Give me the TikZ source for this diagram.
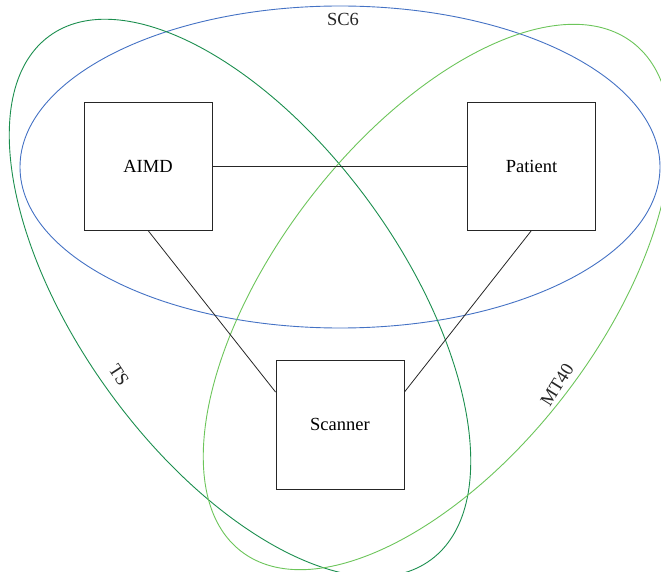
\documentclass[tikz,border=0pt]{standalone}
\usepackage{fontspec}
\setmainfont{Liberation Serif}
\usetikzlibrary{calc}
\begin{document}
\begin{tikzpicture}[x=1pt,y=1pt,
  box/.style={draw=black!85,line width=0.9pt,minimum width=128pt,minimum height=128pt,inner sep=0pt,font=\fontsize{18.5}{21}\selectfont},
  link/.style={draw=black!85,line width=0.8pt},
  setline/.style={line width=0.9pt},
  lbl/.style={font=\fontsize{18.5}{21}\selectfont,text=black!85,inner sep=0pt}]
\definecolor{scblue}{HTML}{4472C4}
\definecolor{tsgreen}{HTML}{1B8E4E}
\definecolor{mtgreen}{HTML}{6CC55A}
\useasboundingbox (0,0) rectangle (661,571);
\begin{scope}
\clip (0,0) rectangle (661,571);
\draw[setline,scblue] (340,404) ellipse [x radius=320, y radius=161];
\draw[setline,tsgreen] (240,273) ellipse [x radius=324, y radius=161, rotate=-54];
\draw[setline,mtgreen] (437,274) ellipse [x radius=321, y radius=161, rotate=52.4];
\end{scope}
\node[box] (aimd) at (148,405) {AIMD};
\node[box] (patient) at (531.5,405) {Patient};
\node[box,minimum height=129pt] (scanner) at (340,146.5) {Scanner};
\coordinate (sl) at ($(scanner.north west)!0.25!(scanner.south west)$);
\coordinate (sr) at ($(scanner.north east)!0.25!(scanner.south east)$);
\draw[link] (aimd.east) -- (patient.west);
\draw[link] (aimd.south) -- (sl);
\draw[link] (patient.south) -- (sr);
\node[lbl] (sc6) at (343,552) {SC6};
\node[lbl,rotate=-57] (ts) at (119,196) {TS};
\node[lbl,rotate=58] (mt40) at (557,186) {MT40};
\end{tikzpicture}
\end{document}
